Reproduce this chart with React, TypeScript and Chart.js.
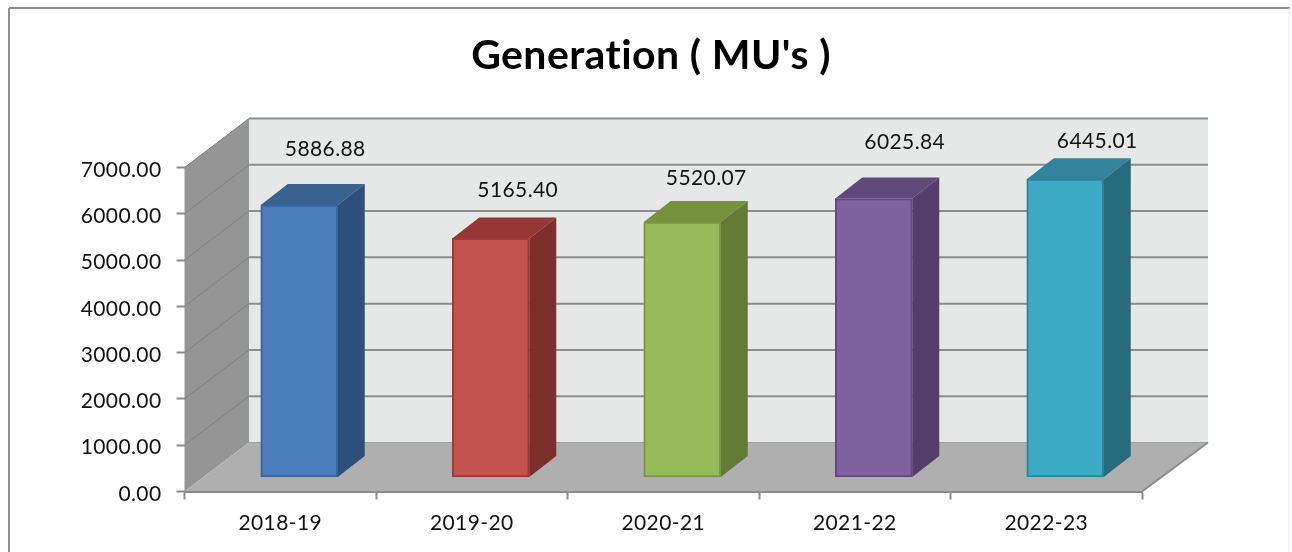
import React, { useEffect, useRef } from "react";
import { Chart, registerables } from "chart.js";

Chart.register(...registerables);

const categories = ["2018-19", "2019-20", "2020-21", "2021-22", "2022-23"];
const generation = [5886.88, 5165.4, 5520.07, 6025.84, 6445.01];
const frontColors = ["#4b7ebf", "#c2524d", "#99ba5a", "#7f63a1", "#3daac6"];
const edgeColors = ["#38659c", "#9c3a37", "#7a9644", "#614a80", "#2f8499"];
const sideColors = ["#2e4f7c", "#7d2f2d", "#647a36", "#533e6c", "#266c7d"];
const topColors = ["#3a6290", "#953735", "#76923c", "#5f497a", "#31849b"];
const labelNudgeX = [26, 27, 24, 31, 32];
const labelNudgeY = [-56, -48, -44, -56, -38];

const FONT = "Lato, Carlito, Calibri, sans-serif";
const WALL = { dx: 64.5, dxRight: 66, dy: -49 };
const BAR = { shiftX: 19, shiftY: -14, dx: 27, dy: -21 };

const poly = (ctx: CanvasRenderingContext2D, pts: number[][], fill: string) => {
  ctx.beginPath();
  pts.forEach(([x, y], i) => (i ? ctx.lineTo(x, y) : ctx.moveTo(x, y)));
  ctx.closePath();
  ctx.fillStyle = fill;
  ctx.fill();
};

const line = (ctx: CanvasRenderingContext2D, a: number[], b: number[], color: string, w: number) => {
  ctx.beginPath();
  ctx.moveTo(a[0], a[1]);
  ctx.lineTo(b[0], b[1]);
  ctx.strokeStyle = color;
  ctx.lineWidth = w;
  ctx.stroke();
};

const chart3d = {
  id: "chart3d",
  afterLayout(chart: any) {
    chart.titleBlock.left = 10;
    chart.titleBlock.right = 1292;
  },
  beforeDraw(chart: any) {
    const { ctx, chartArea: a, scales } = chart;
    const y = scales.y;
    const { dx, dxRight, dy } = WALL;
    ctx.letterSpacing = "0.4px";
    ctx.save();
    // outer frame
    line(ctx, [9, 8], [1290, 8], "#8f8f8f", 2);
    line(ctx, [9, 8], [9, 552], "#8f8f8f", 2);
    line(ctx, [1289, 8], [1289, 552], "#ececec", 1);
    // walls
    const bl = a.left + dx;
    const br = a.right + dxRight;
    poly(ctx, [[bl, a.top + dy], [br, a.top + dy], [br, a.bottom + dy], [bl, a.bottom + dy]], "#e6e7e7");
    poly(ctx, [[a.left, a.top], [bl, a.top + dy], [bl, a.bottom + dy], [a.left, a.bottom]], "#959595");
    poly(ctx, [[a.left, a.bottom], [bl, a.bottom + dy], [br, a.bottom + dy], [a.right, a.bottom]], "#aeafae");
    for (const t of y.ticks) {
      const py = y.getPixelForValue(t.value);
      if (t.value > 0) {
        line(ctx, [a.left, py], [bl, py + dy], "#808080", 1);
        line(ctx, [bl, py + dy], [br, py + dy], "#8c8c8c", 2);
      }
    }
    line(ctx, [bl, a.bottom + dy], [br, a.bottom + dy], "#a0a0a0", 1);
    line(ctx, [a.right, a.bottom], [br, a.bottom + dy], "#8c8c8c", 2);
    ctx.restore();
  },
  beforeDatasetsDraw(chart: any) {
    const { ctx } = chart;
    ctx.save();
    ctx.translate(BAR.shiftX, BAR.shiftY);
    chart.getDatasetMeta(0).data.forEach((el: any, i: number) => {
      const l = el.x - el.width / 2;
      const r = el.x + el.width / 2;
      poly(ctx, [[l, el.y], [l + BAR.dx, el.y + BAR.dy], [r + BAR.dx, el.y + BAR.dy], [r, el.y]], topColors[i]);
      poly(ctx, [[r, el.y], [r + BAR.dx, el.y + BAR.dy], [r + BAR.dx, el.base + BAR.dy], [r, el.base]], sideColors[i]);
    });
  },
  afterDatasetsDraw(chart: any) {
    const { ctx } = chart;
    ctx.restore();
    ctx.save();
    ctx.font = `21px ${FONT}`;
    ctx.fillStyle = "#111111";
    ctx.textAlign = "center";
    ctx.textBaseline = "middle";
    chart.getDatasetMeta(0).data.forEach((el: any, i: number) => {
      ctx.fillText(
        generation[i].toFixed(2),
        el.x + BAR.shiftX + labelNudgeX[i],
        el.y + BAR.shiftY + labelNudgeY[i]
      );
    });
    ctx.restore();
  },
};

export default function App() {
  const ref = useRef<HTMLCanvasElement>(null);
  useEffect(() => {
    const chart = new Chart(ref.current!, {
      type: "bar",
      data: {
        labels: categories,
        datasets: [
          {
            label: "Generation ( MU's )",
            data: generation,
            backgroundColor: frontColors,
            borderColor: edgeColors,
            borderWidth: 2,
            borderSkipped: false,
            barThickness: 77,
            clip: false as any,
          },
        ],
      },
      options: {
        responsive: false,
        animation: false,
        layout: { padding: { left: 0, right: 150, top: 0, bottom: 0 } },
        plugins: {
          legend: { display: false },
          tooltip: { enabled: false },
          title: {
            display: true,
            text: "Generation ( MU's )",
            color: "#000000",
            font: { family: FONT, size: 41, weight: "bold", lineHeight: 1.2 },
            padding: { top: 31, bottom: 87.3 },
          },
        },
        scales: {
          x: {
            afterFit: (s: any) => { s.height = 60.5; },
            grid: { drawOnChartArea: false, tickLength: 8, tickColor: "#8c8c8c", tickWidth: 2 },
            border: { color: "#8c8c8c", width: 2 },
            ticks: { color: "#111111", font: { family: FONT, size: 21 }, padding: 11, maxRotation: 0, minRotation: 0 },
          },
          y: {
            min: 0,
            max: 7000,
            afterFit: (s: any) => { s.width = 184.5; },
            grid: { drawOnChartArea: false, tickLength: 8, tickColor: "#8c8c8c", tickWidth: 2 },
            border: { display: false },
            ticks: {
              stepSize: 1000,
              color: "#111111",
              font: { family: FONT, size: 21 },
              padding: 15,
              labelOffset: 2.5,
              callback: (v: any) => Number(v).toFixed(2),
            },
          },
        },
      },
      plugins: [chart3d],
    });
    return () => chart.destroy();
  }, []);
  return (
    <canvas
      ref={ref}
      width={1292}
      height={552}
      style={{ position: "absolute", left: 0, top: 0, display: "block" }}
    />
  );
}
